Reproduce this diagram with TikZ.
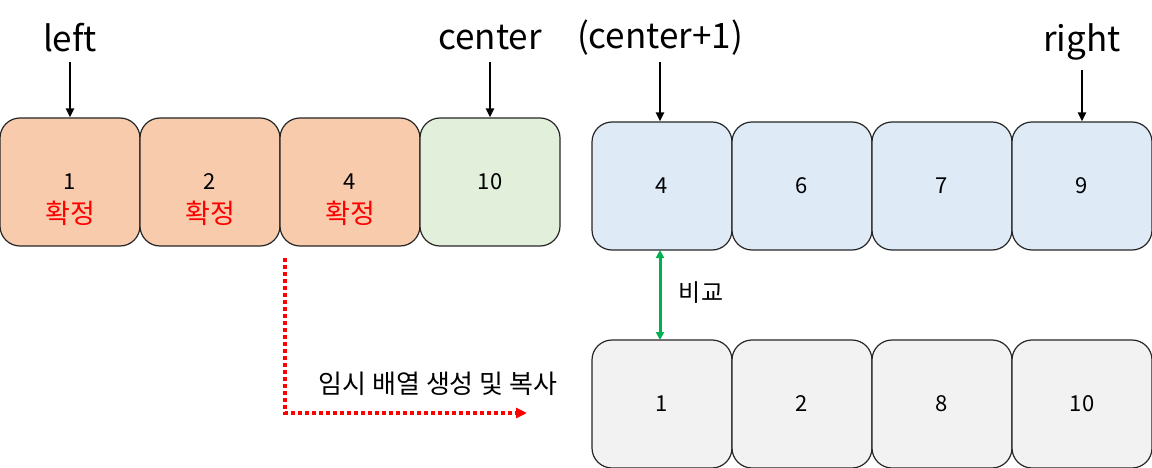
\documentclass[tikz,border=0pt]{standalone}
\usepackage{fontspec}
\setmainfont{Noto Sans CJK KR}
\usetikzlibrary{arrows.meta}
\definecolor{orangefill}{HTML}{F8CBAD}
\definecolor{greenfill}{HTML}{E2EFDA}
\definecolor{bluefill}{HTML}{DEEBF7}
\definecolor{grayfill}{HTML}{F2F2F2}
\definecolor{cmpgreen}{HTML}{00B050}
\tikzset{
  cell/.style={draw=black!85, line width=1.2pt, rounded corners=20pt, minimum width=140pt, minimum height=128pt, inner sep=0pt, font=\fontsize{22}{24}\selectfont},
  ptr/.style={font=\fontsize{35}{40}\selectfont},
  ptrarrow/.style={line width=2.5pt, -{Triangle[length=9pt,width=8pt]}},
  fix/.style={red, font=\fontsize{27}{30}\selectfont},
}
\begin{document}
\begin{tikzpicture}[x=1pt,y=-1pt]
\useasboundingbox (0,0) rectangle (1152,468);
% left array
\node[cell, fill=orangefill] (a1) at (70,182) {1};
\node[cell, fill=orangefill] (a2) at (210,182) {2};
\node[cell, fill=orangefill] (a3) at (350,182) {4};
\node[cell, fill=greenfill] (a4) at (490,182) {10};
\node[fix] (f1) at (70,213) {확정};
\node[fix] (f2) at (210,213) {확정};
\node[fix] (f3) at (350,213) {확정};
% right array
\node[cell, fill=bluefill] (b1) at (662,186) {4};
\node[cell, fill=bluefill] (b2) at (802,186) {6};
\node[cell, fill=bluefill] (b3) at (942,186) {7};
\node[cell, fill=bluefill] (b4) at (1082,186) {9};
% temp array
\node[cell, fill=grayfill] (c1) at (662,404) {1};
\node[cell, fill=grayfill] (c2) at (802,404) {2};
\node[cell, fill=grayfill] (c3) at (942,404) {8};
\node[cell, fill=grayfill] (c4) at (1082,404) {10};
% pointer labels
\node[ptr] (lleft) at (70,38) {left};
\node[ptr] (lcenter) at (490,38) {center};
\node[ptr] (lcenter1) at (660,38) {(center+1)};
\node[ptr] (lright) at (1082,42) {right};
\coordinate (s1) at (70,62);
\coordinate (s2) at (490,62);
\coordinate (s3) at (660,62);
\coordinate (s4) at (1082,70);
\draw[ptrarrow] (s1) -- (s1 |- a1.north);
\draw[ptrarrow] (s2) -- (s2 |- a4.north);
\draw[ptrarrow] (s3) -- (s3 |- b1.north);
\draw[ptrarrow] (s4) -- (s4 |- b4.north);
% compare arrow
\draw[cmpgreen, line width=3pt, {Triangle[length=8pt,width=8pt]}-{Triangle[length=8pt,width=8pt]}] (660,250) -- (660,340);
\node[font=\fontsize{24}{26}\selectfont] (cmp) at (701,293) {비교};
% copy arrow
\coordinate (r0) at (285,258);
\coordinate (r1) at (285,413);
\coordinate (r2) at (527,413);
\draw[red, line width=3.5pt, dash pattern=on 3.5pt off 3.5pt, -{Triangle[length=11pt,width=10pt]}] (r0) -- (r1) -- (r2);
\node[font=\fontsize{26}{28}\selectfont] (copy) at (438,384) {임시 배열 생성 및 복사};
\end{tikzpicture}
\end{document}
